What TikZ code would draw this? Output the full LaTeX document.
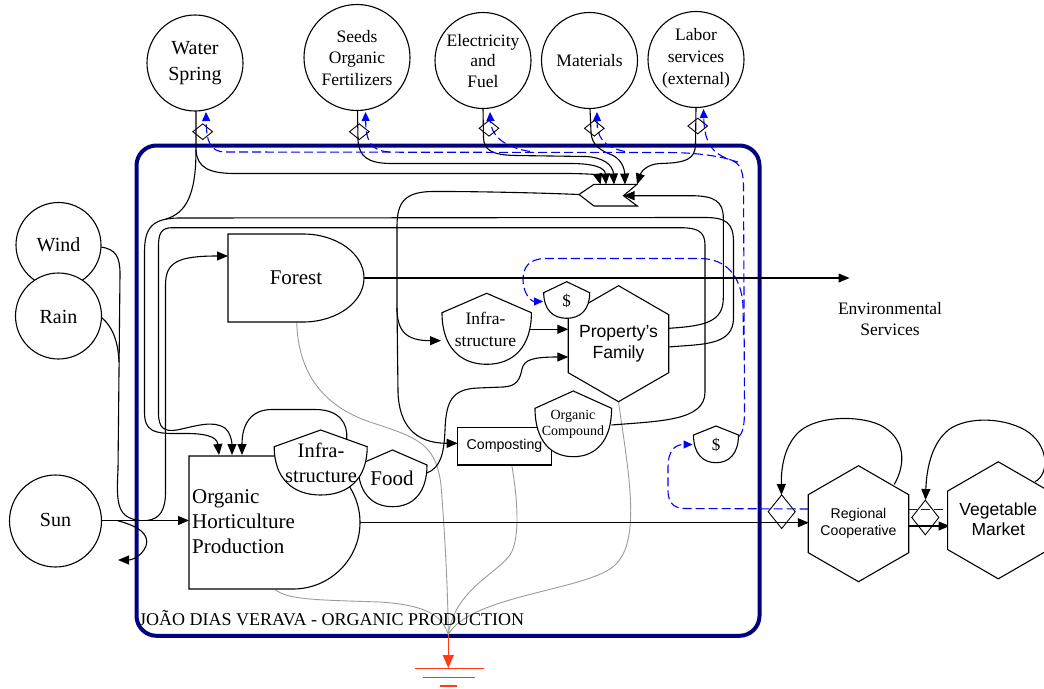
\documentclass[tikz,border=0pt]{standalone}
\usepackage{fontspec}
\setmainfont{Liberation Serif}
\newfontfamily\arialfam{Liberation Sans}
\usetikzlibrary{arrows.meta,shapes.geometric}
\definecolor{navyline}{RGB}{0,0,128}
\definecolor{money}{RGB}{0,0,255}
\definecolor{heat}{RGB}{155,155,155}
\definecolor{sinkred}{RGB}{255,60,20}
% storage tank: centre x, apex y, shoulder y, half width, bottom y
\newcommand\tankpath[5]{({#1-#4},{#3}) -- ({#1},{#2}) -- ({#1+#4},{#3})
  .. controls ({#1+#4},{#3+0.66*(#5-#3)}) and ({#1+0.6*#4},{#5}) .. ({#1},{#5})
  .. controls ({#1-0.6*#4},{#5}) and ({#1-#4},{#3+0.66*(#5-#3)}) .. cycle}
% hexagon with a vertex on top: centre x, centre y, radius
\newcommand\hexpath[3]{({#1},{#2-#3}) -- ({#1+0.866*#3},{#2-0.5*#3})
  -- ({#1+0.866*#3},{#2+0.5*#3}) -- ({#1},{#2+#3})
  -- ({#1-0.866*#3},{#2+0.5*#3}) -- ({#1-0.866*#3},{#2-0.5*#3}) -- cycle}
\begin{document}
\begin{tikzpicture}[x=1pt,y=-1pt,
  flow/.style={draw=black,line width=1.1pt,-{Triangle[length=11pt,width=9pt]}},
  wire/.style={draw=black,line width=1.1pt},
  cash/.style={draw=money,line width=1.1pt,dash pattern=on 9pt off 4pt},
  casharrow/.style={cash,-{Triangle[length=9pt,width=8pt]}},
  heatline/.style={draw=heat,line width=0.9pt},
  shapeline/.style={draw=black,line width=1.1pt,fill=white},
  source/.style={circle,draw=black,line width=1.1pt,fill=white,inner sep=0pt},
  tag/.style={inner sep=0pt,align=center},
  gate/.style={diamond,draw=black,line width=0.9pt,inner sep=0pt},
]
\useasboundingbox (0,0) rectangle (1044,688);

% ---------- system boundary ----------
\draw[navyline,line width=4pt,rounded corners=20pt] (136.5,145.5) rectangle (759.5,635.8);

% ---------- connection points ----------
\coordinate (sunE) at (101.5,520.5);
\coordinate (sunJ) at (117,520.5);
\coordinate (sunOut) at (118,560);
\coordinate (joinS) at (140,520.5);
\coordinate (feedF) at (147,520.5);
\coordinate (ohpW) at (189,520.5);
\coordinate (windE) at (100.5,247);
\coordinate (rainE) at (101,317);
\coordinate (mergeWR) at (119,362);
\coordinate (forestW) at (228,256);
\coordinate (forestE) at (364.3,278);
\coordinate (forestS) at (296.7,322);
\coordinate (envIn) at (849.5,278);
\coordinate (ohpE) at (360,522.7);
\coordinate (ohpS) at (275,589);
\coordinate (ohpN1) at (219,455);
\coordinate (ohpN2) at (232,455);
\coordinate (ohpN3) at (242,455);
\coordinate (coopW) at (808.8,522.7);
\coordinate (coopE) at (908.3,526);
\coordinate (marketW) at (949.6,526);
\coordinate (coopNE) at (894.3,484.3);
\coordinate (mktNE) at (1035,481.7);
\coordinate (coopWd) at (808.5,509);
\coordinate (coopEd) at (908,509.5);
\coordinate (marketWd) at (949.5,509.5);
\coordinate (waterS) at (196,111);
\coordinate (wsplit) at (196,150);
\coordinate (lineAJ) at (166,219);
\coordinate (seedsS) at (357.5,110);
\coordinate (elecS) at (483,108.5);
\coordinate (matS) at (590,108.5);
\coordinate (laborS) at (696,107.5);
\coordinate (chvIn1) at (600.5,184.5);
\coordinate (chvIn2) at (606,184.5);
\coordinate (chvIn3) at (614,184.5);
\coordinate (chvIn4) at (625,184.5);
\coordinate (chvIn5) at (637,184.5);
\coordinate (chvNotch) at (623.5,195.7);
\coordinate (chvW) at (579,194.5);
\coordinate (waterM) at (206,112);
\coordinate (seedsM) at (365.5,112);
\coordinate (elecM) at (490,112);
\coordinate (matM) at (597,112);
\coordinate (laborM) at (703.5,109);
\coordinate (dRe) at (738.5,437);
\coordinate (dRw) at (692.5,444.5);
\coordinate (dUw) at (543,301.5);
\coordinate (pfR1) at (668.7,328.3);
\coordinate (pfR2) at (668.7,347);
\coordinate (pfL1) at (568.3,329.3);
\coordinate (pfL2) at (568.3,357);
\coordinate (pfS) at (618.5,401.7);
\coordinate (ocE) at (611.5,425);
\coordinate (iuW) at (441,340.7);
\coordinate (iuE) at (530,329.3);
\coordinate (compW) at (457.7,443.3);
\coordinate (compS) at (511.7,465);
\coordinate (foodE) at (426.7,473);
\coordinate (ilNE) at (346.7,439);
\coordinate (gateC1N) at (781.5,495);
\coordinate (gateC2N) at (925.5,500);
\coordinate (gnd) at (448.3,634.5);
\coordinate (gndTip) at (448.3,668);

% ---------- heat sink lines ----------
\draw[heatline] (forestS) .. controls (298,370) and (320,405) .. (370,422)
  .. controls (415,437) and (436,442) .. (441,485) .. controls (445,535) and (448,595) .. (gnd);
\draw[heatline] (ohpS) .. controls (285,600) and (320,600) .. (380,602)
  .. controls (425,605) and (442,615) .. (gnd);
\draw[heatline] (compS) .. controls (517,495) and (521,538) .. (510,555)
  .. controls (495,575) and (455,590) .. (gnd);
\draw[heatline] (pfS) .. controls (628,470) and (642,540) .. (615,565)
  .. controls (590,590) and (470,595) .. (gnd);

% ---------- renewable inputs ----------
\draw[flow] (sunE) -- (ohpW);
\draw[flow] (sunJ) .. controls (138,526) and (150,534) .. (146,546)
  .. controls (141,558) and (130,560) .. (sunOut);
\draw[wire] (windE) .. controls (116,249) and (120,257) .. (120,274) -- (118,470)
  .. controls (116,505) and (118,518) .. (joinS);
\draw[wire] (rainE) .. controls (112,326) and (118,340) .. (mergeWR);
\draw[flow] (feedF) .. controls (160,519) and (165.5,510) .. (165.5,492) -- (165.5,285)
  .. controls (165.5,262) and (178,256) .. (forestW);

% ---------- purchased inputs ----------
\draw[flow] (waterS) -- (wsplit) .. controls (197,167) and (208,173.5) .. (235,173.5)
  -- (565,173.5) .. controls (588,173.5) and (598,175) .. (chvIn1);
\draw[wire] (wsplit) .. controls (196,195) and (186,213) .. (lineAJ);
\draw[flow] (seedsS) -- (358,140) .. controls (359,157) and (368,163.5) .. (392,163.5)
  -- (570,163.5) .. controls (595,163.5) and (605,168) .. (chvIn2);
\draw[flow] (elecS) -- (483.5,138) .. controls (484,150) and (492,155) .. (515,155.5)
  -- (585,156.5) .. controls (603,157) and (613,165) .. (chvIn3);
\draw[flow] (matS) -- (591,132) .. controls (591.5,146) and (602,151) .. (612,155)
  .. controls (621,159) and (624.5,168) .. (chvIn4);
\draw[flow] (laborS) -- (695.5,145) .. controls (695,159) and (686,163) .. (660,163.5)
  .. controls (647,164) and (641,172) .. (chvIn5);

% ---------- money ----------
\draw[casharrow] (dRe) .. controls (743,433) and (744.5,425) .. (744.5,410) -- (743.5,185)
  .. controls (743,166) and (738,161) .. (724,158) .. controls (708,154.5) and (690,152.5) .. (665,152.5)
  -- (225,152) .. controls (210,151.5) and (206.5,142) .. (waterM);
\draw[casharrow] (390,152) .. controls (372,151) and (366,143) .. (seedsM);
\draw[casharrow] (530,151.5) .. controls (503,147) and (491,135) .. (elecM);
\draw[casharrow] (625,151.5) .. controls (603,147) and (597,137) .. (matM);
\draw[casharrow] (738,162) .. controls (714,156) and (704.5,146) .. (laborM);
\draw[casharrow] (743.5,335) -- (743,305) .. controls (741,277) and (727,258.5) .. (700,258.5)
  -- (545,258.5) .. controls (529,259) and (523,267) .. (523,280)
  .. controls (523,293) and (531,301.5) .. (dUw);
\draw[casharrow] (coopWd) -- (684,508.5) .. controls (672,508) and (668,501) .. (668,490)
  -- (668,467) .. controls (668,452) and (674,444.5) .. (dRw);
\draw[cash] (coopEd) -- (marketWd);

% ---------- internal flows ----------
\draw[flow] (forestE) -- (envIn);
\draw[flow] (ohpE) -- (coopW);
\draw[flow] (coopE) -- (marketW);
\draw[flow] (coopNE) .. controls (906,464) and (906,438) .. (880,425)
  .. controls (858,415) and (818,416) .. (800,431) .. controls (785,444) and (781,466) .. (gateC1N);
\draw[flow] (mktNE) .. controls (1050,474) and (1049,444) .. (1025,430)
  .. controls (1000,416) and (962,417) .. (946,432) .. controls (931,446) and (926.5,470) .. (gateC2N);
\draw[flow] (pfR1) .. controls (705,326) and (723.3,322) .. (723.3,298) -- (723.3,218)
  .. controls (723.3,201) and (714,196) .. (692,195.7) -- (chvNotch);
\draw[flow] (pfR2) .. controls (702,344) and (733.5,346) .. (733.5,318) -- (733.5,242)
  .. controls (733.5,223) and (726,217.5) .. (705,217.5) -- (178,218)
  .. controls (152,218.5) and (144.5,228) .. (144.5,252) -- (144.5,412)
  .. controls (144.5,431) and (153,434) .. (180,433.5) .. controls (204,433) and (217,436) .. (ohpN1);
\draw[flow] (ocE) .. controls (660,421) and (705,421) .. (705,392) -- (705,245)
  .. controls (705,231) and (697,227.7) .. (680,227.7) -- (172,227.7)
  .. controls (161,227.7) and (158.5,234) .. (158.5,246) -- (158.5,413)
  .. controls (158.5,428) and (164,432) .. (177,430) .. controls (196,426) and (213,420) .. (225,428)
  .. controls (230,432) and (232,441) .. (ohpN2);
\draw[flow] (ilNE) .. controls (348,424) and (340,409.5) .. (315,409.5) -- (272,409.5)
  .. controls (251,409.5) and (242,424) .. (ohpN3);
\draw[flow] (chvW) .. controls (545,193) and (475,191.3) .. (432,191.5)
  .. controls (406,192) and (397,201) .. (397,226) -- (397,308)
  .. controls (397,331) and (406,340.7) .. (iuW);
\draw[flow] (397,308) -- (398,392) .. controls (399,425) and (415,443.3) .. (compW);
\draw[flow] (iuE) -- (pfL1);
\draw[flow] (foodE) .. controls (440,468) and (444,455) .. (445,430)
  .. controls (446,401) and (452,389) .. (478,388) -- (503,387)
  .. controls (517,386.5) and (520,379) .. (522,369) .. controls (524,360) and (532,357) .. (pfL2);

% ---------- components ----------
\draw[shapeline] (228,234) -- (303,234) arc[start angle=-90,end angle=90,x radius=61,y radius=44]
  -- (228,322) -- cycle;
\draw[shapeline] (189,456) -- (293,456) arc[start angle=-90,end angle=90,x radius=67,y radius=66.5]
  -- (189,589) -- cycle;
\draw[shapeline] \tankpath{392.5}{450}{465}{34.5}{506.7};
\draw[shapeline] \tankpath{320.7}{430}{446.7}{46.5}{495};
\draw[shapeline] \tankpath{486.7}{293.3}{312.7}{44.7}{364.3};
\draw[shapeline] (457.7,427.3) rectangle (551.7,465);
\draw[shapeline] \tankpath{573.3}{391}{408.3}{38.3}{456.7};
\draw[shapeline] \hexpath{618.5}{343.7}{58};
\draw[shapeline] \tankpath{566.7}{281.7}{292.7}{23}{318.3};
\draw[shapeline] \tankpath{716}{426}{435}{22.5}{462.7};
\draw[shapeline] \hexpath{858.5}{523.7}{58};
\draw[shapeline] \hexpath{998.3}{520.3}{58.5};
\draw[shapeline] (chvW) -- (594,184.3) -- (637,184.3) -- (chvNotch) -- (637.3,206) -- (594,206) -- cycle;

% ---------- sources ----------
\node[source,minimum size=96pt] (water) at (195,63) {};
\node[source,minimum size=106pt] (seeds) at (357,57.5) {};
\node[source,minimum size=96pt] (elec) at (483,60.5) {};
\node[source,minimum size=96pt] (mat) at (589.5,60.5) {};
\node[source,minimum size=96pt] (labor) at (696,59.5) {};
\node[source,minimum size=85pt] (wind) at (58.5,245) {};
\node[source,minimum size=86pt] (rain) at (58.5,316) {};
\node[source,minimum size=92pt] (sun) at (55.5,521) {};

% ---------- transaction gates ----------
\node[gate,minimum width=20pt,minimum height=16pt] (g1) at (202.7,131.7) {};
\node[gate,minimum width=20pt,minimum height=16pt] (g2) at (359.3,131.7) {};
\node[gate,minimum width=20pt,minimum height=16pt] (g3) at (489,128.3) {};
\node[gate,minimum width=20pt,minimum height=16pt] (g4) at (594.3,128.3) {};
\node[gate,minimum width=20pt,minimum height=16pt] (g5) at (697.7,126) {};
\node[gate,minimum width=27.4pt,minimum height=34pt] (gc1) at (781.7,511.7) {};
\node[gate,minimum width=27.4pt,minimum height=35pt] (gc2) at (925.3,517.5) {};

% ---------- labels ----------
\node[tag,font=\fontsize{20}{26}\selectfont] (waterT) at (water) {Water\\Spring};
\node[tag,font=\fontsize{17.5}{21.3}\selectfont] (seedsT) at (357,58) {Seeds\\Organic\\Fertilizers};
\node[tag,font=\fontsize{17.5}{20.8}\selectfont] (elecT) at (483,61) {Electricity\\and\\Fuel};
\node[tag,font=\fontsize{17.5}{21}\selectfont] (matT) at (589.5,61) {Materials};
\node[tag,font=\fontsize{17.5}{22}\selectfont] (laborT) at (696,58.5) {Labor\\services\\(external)};
\node[tag,font=\fontsize{20}{24}\selectfont] (windT) at (wind) {Wind};
\node[tag,font=\fontsize{20}{24}\selectfont] (rainT) at (58.5,316.5) {Rain};
\node[tag,font=\fontsize{20}{24}\selectfont] (sunT) at (55.5,520) {Sun};
\node[tag,font=\fontsize{21}{25}\selectfont] (forestT) at (296,278) {Forest};
\node[anchor=west,align=left,inner sep=0pt,font=\fontsize{21}{25}\selectfont] (ohpT) at (192,522) {Organic\\Horticulture\\Production};
\node[tag,font=\fontsize{20.5}{25}\selectfont] (ilT) at (321,463) {Infra-\\structure};
\node[tag,font=\fontsize{21}{25}\selectfont] (foodT) at (392,478) {Food};
\node[tag,font=\fontsize{17.5}{21.7}\selectfont] (iuT) at (485.5,329.5) {Infra-\\structure};
\node[tag,font=\fontsize{14}{16.7}\selectfont] (ocT) at (573,424.5) {Organic\\Compound};
\node[tag,font=\fontsize{17}{20}\selectfont] (duT) at (566.7,300.5) {\$};
\node[tag,font=\fontsize{17}{20}\selectfont] (drT) at (716,444.5) {\$};
\node[tag,font=\arialfam\fontsize{17.6}{20.7}\selectfont] (pfT) at (618.5,344) {Property’s\\Family};
\node[tag,font=\arialfam\fontsize{14.2}{17}\selectfont] (compT) at (504.5,446) {Composting};
\node[tag,font=\arialfam\fontsize{14.1}{16.7}\selectfont] (coopT) at (858.5,523) {Regional\\Cooperative};
\node[tag,font=\arialfam\fontsize{17.5}{19.7}\selectfont] (mktT) at (998.3,519.5) {Vegetable\\Market};
\node[tag,font=\fontsize{17.5}{21.7}\selectfont] (envT) at (890,319) {Environmental\\Services};
\node[anchor=west,inner sep=0pt,font=\fontsize{18}{20}\selectfont] (title) at (139,618.5) {JOÃO DIAS VERAVA - ORGANIC PRODUCTION};

% ---------- heat sink ----------
\draw[draw=sinkred,line width=1.3pt,-{Triangle[length=13pt,width=11pt]}] (gnd) -- (gndTip);
\draw[draw=sinkred,line width=1.2pt] (415,668.5) -- (484,668.5);
\draw[draw=sinkred,line width=1.2pt] (423,677.5) -- (475,677.5);
\draw[draw=sinkred,line width=1.2pt] (440,686) -- (457,686);
\end{tikzpicture}
\end{document}
